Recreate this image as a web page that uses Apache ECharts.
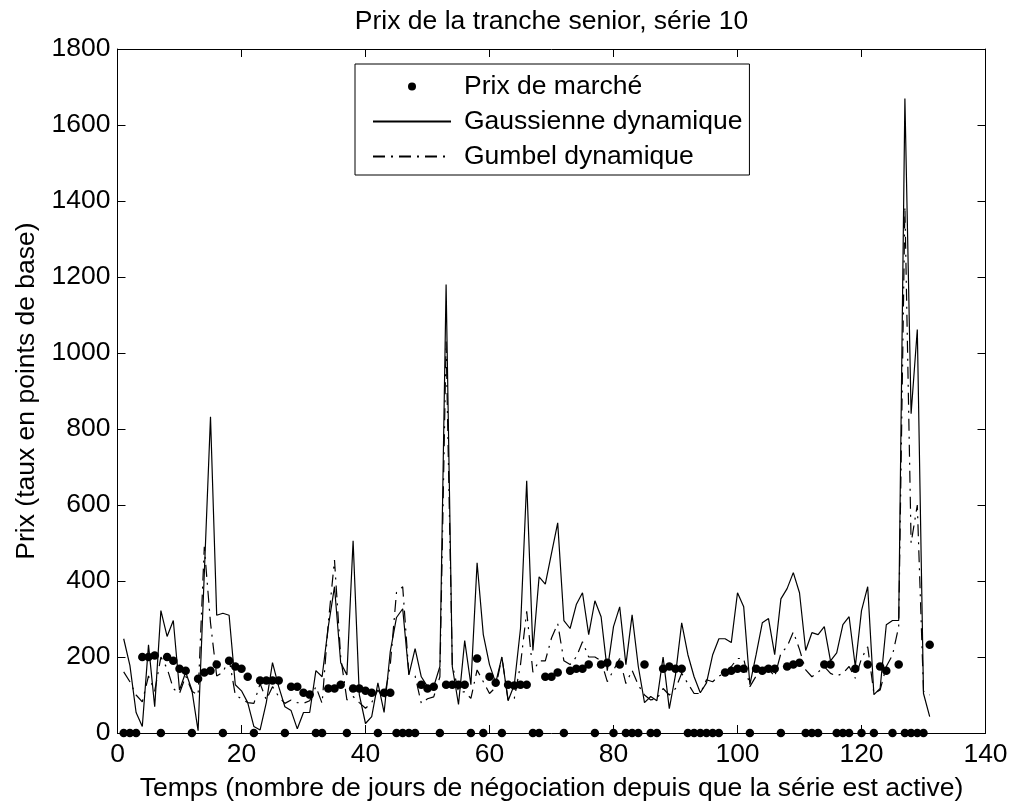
<!DOCTYPE html>
<html lang="fr">
<head>
    <meta charset="UTF-8">
    <title>Prix de la tranche senior, série 10</title>
    <style>
        html, body { margin: 0; padding: 0; background: #fff; }
        #main { width: 1016px; height: 807px; }
    </style>
</head>
<body>
    <div id="main"></div>
    <script src="https://cdn.jsdelivr.net/npm/echarts@6/dist/echarts.min.js"></script>
    <script type="text/javascript">
        // valeurs, jour 1 à 131
        var marche = [0, 0, 0, 200, 200, 204, 0, 200, 190, 169,
            164, 0, 143, 159, 164, 180, 0, 190, 175, 169,
            148, 0, 138, 138, 138, 138, 0, 122, 122, 106,
            101, 0, 0, 117, 117, 127, 0, 117, 117, 111,
            106, 0, 106, 106, 0, 0, 0, 0, 127, 117,
            122, 0, 127, 127, 127, 127, 0, 196, 0, 148,
            132, 0, 127, 125, 127, 127, 0, 0, 148, 148,
            159, 0, 164, 169, 169, 180, 0, 180, 185, 0,
            180, 0, 0, 0, 180, 0, 0, 169, 175, 169,
            169, 0, 0, 0, 0, 0, 0, 159, 164, 169,
            169, 0, 169, 164, 169, 169, 0, 175, 180, 185,
            0, 0, 0, 180, 180, 0, 0, 0, 169, 0,
            180, 0, 175, 164, 0, 180, 0, 0, 0, 0,
            232];

        var gaussienne = [248, 178, 54, 17, 232, 69, 322, 254, 296, 113,
            160, 113, 6, 420, 832, 310, 315, 310, 127, 111,
            80, 17, 8, 80, 185, 122, 69, 59, 11, 54,
            54, 164, 148, 280, 385, 185, 153, 506, 101, 25,
            43, 132, 54, 215, 304, 327, 153, 222, 148, 122,
            122, 175, 1180, 175, 75, 243, 127, 448, 259, 180,
            132, 200, 85, 127, 275, 664, 217, 411, 392, 473,
            553, 296, 275, 338, 369, 259, 348, 306, 164, 280,
            332, 180, 311, 175, 80, 96, 85, 200, 64, 153,
            290, 206, 148, 106, 132, 206, 248, 248, 238, 369,
            332, 127, 206, 290, 301, 206, 353, 380, 422, 369,
            217, 264, 259, 280, 190, 211, 285, 306, 175, 322,
            385, 101, 117, 285, 296, 296, 1670, 840, 1062, 104,
            43];

        var gumbel = [161, 135, 100, 82, 150, 110, 200, 170, 117, 104,
            150, 110, 100, 490, 290, 150, 160, 195, 100, 90,
            80, 78, 130, 87, 122, 96, 78, 87, 80, 78,
            85, 122, 78, 290, 455, 200, 87, 96, 80, 65,
            80, 113, 90, 180, 370, 385, 155, 150, 78, 90,
            95, 148, 1030, 180, 108, 108, 91, 166, 135, 104,
            120, 200, 87, 91, 180, 320, 160, 190, 190, 250,
            288, 190, 180, 200, 240, 200, 200, 190, 135, 165,
            196, 130, 165, 126, 100, 87, 90, 117, 100, 117,
            157, 130, 104, 104, 140, 135, 150, 157, 175, 196,
            196, 122, 150, 175, 170, 148, 210, 227, 266, 220,
            166, 148, 160, 175, 157, 150, 157, 175, 144, 196,
            227, 104, 113, 175, 205, 280, 1385, 500, 600, 110,
            100];

        var police = 'Liberation Sans, Arial, Helvetica, sans-serif';
        var taille = 26.5;

        function points(arr) {
            var list = [];
            for (var i = 0; i < arr.length; i++) {
                list.push([i + 1, arr[i]]);
            }
            return list;
        }

        var axeX = {
            type: 'value', min: 0, max: 140, interval: 20,
            axisLine: { show: true, onZero: false, lineStyle: { color: '#000', width: 1 } },
            axisTick: { show: true, inside: true, length: 8, lineStyle: { color: '#000' } },
            splitLine: { show: false }
        };
        var axeY = {
            type: 'value', min: 0, max: 1800, interval: 200,
            axisLine: { show: true, onZero: false, lineStyle: { color: '#000', width: 1 } },
            axisTick: { show: true, inside: true, length: 8, lineStyle: { color: '#000' } },
            splitLine: { show: false }
        };

        var myChart = echarts.init(document.getElementById('main'));

        var option = {
            animation: false,
            backgroundColor: '#fff',
            textStyle: { fontFamily: police, color: '#000' },
            title: {
                text: 'Prix de la tranche senior, série 10',
                left: 551.5,
                textAlign: 'center',
                top: 8,
                padding: 0,
                textStyle: { fontFamily: police, fontSize: taille, fontWeight: 'normal', color: '#000' }
            },
            legend: {
                left: 355,
                top: 64,
                orient: 'vertical',
                align: 'left',
                padding: [9, 7, 5, 17],
                itemGap: 8,
                itemWidth: 78,
                itemHeight: 8,
                backgroundColor: '#fff',
                borderColor: '#000',
                borderWidth: 1,
                textStyle: { fontFamily: police, fontSize: taille, color: '#000', padding: [0, 0, 0, 8] },
                data: [
                    'Prix de marché',
                    { name: 'Gaussienne dynamique', itemStyle: { opacity: 0 } },
                    { name: 'Gumbel dynamique', itemStyle: { opacity: 0 } }
                ]
            },
            grid: {
                left: 117.5,
                right: 30.5,
                top: 49,
                bottom: 74
            },
            xAxis: [
                echarts.util.merge({
                    position: 'bottom',
                    name: 'Temps (nombre de jours de négociation depuis que la série est active)',
                    nameLocation: 'middle',
                    nameGap: 42,
                    nameTextStyle: { fontFamily: police, fontSize: taille, color: '#000' },
                    axisLabel: { margin: 8, fontFamily: police, fontSize: taille, color: '#000' }
                }, axeX, true),
                echarts.util.merge({ position: 'top', axisLabel: { show: false } }, axeX, true)
            ],
            yAxis: [
                echarts.util.merge({
                    position: 'left',
                    name: 'Prix (taux en points de base)',
                    nameLocation: 'middle',
                    nameGap: 72,
                    nameTextStyle: { fontFamily: police, fontSize: taille, color: '#000' },
                    axisLabel: {
                        margin: 7, fontFamily: police, fontSize: taille, color: '#000',
                        formatter: function (v) { return String(v); }
                    }
                }, axeY, true),
                echarts.util.merge({ position: 'right', axisLabel: { show: false } }, axeY, true)
            ],
            series: [
                {
                    name: 'Gaussienne dynamique',
                    type: 'line',
                    data: points(gaussienne),
                    symbol: 'none',
                    lineStyle: { color: '#000', width: 1.2 },
                    itemStyle: { color: '#000' },
                    z: 3
                },
                {
                    name: 'Gumbel dynamique',
                    type: 'line',
                    data: points(gumbel),
                    symbol: 'none',
                    lineStyle: { color: '#000', width: 1.2, type: [12, 6, 2, 6] },
                    itemStyle: { color: '#000' },
                    z: 3
                },
                {
                    name: 'Prix de marché',
                    type: 'scatter',
                    data: points(marche),
                    symbol: 'circle',
                    symbolSize: 8.5,
                    itemStyle: { color: '#000', opacity: 1 },
                    z: 4
                }
            ]
        };

        myChart.setOption(option);
    </script>
</body>
</html>
